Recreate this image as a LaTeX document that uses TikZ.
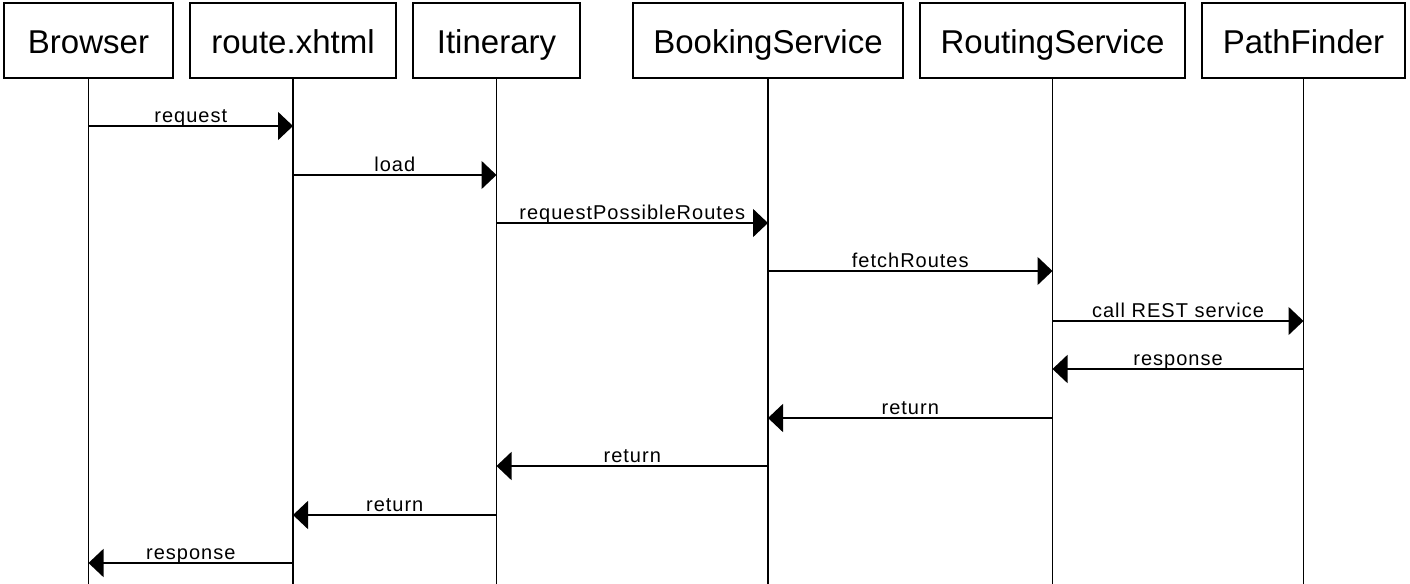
\documentclass[tikz,border=0pt]{standalone}
\usepackage{fontspec}
\setmainfont{Liberation Sans}
\usetikzlibrary{arrows.meta}

\begin{document}
\begin{tikzpicture}[x=0.5pt,y=-0.5pt,
    actor/.style={draw,line width=0.8pt,minimum height=37.5pt,inner sep=0pt,
      text height=14pt,text depth=1.5pt,font=\fontsize{16.5}{18}\selectfont},
    life/.style={line width=0.8pt},
    msg/.style={line width=0.8pt,-{Triangle[length=7.5pt,width=14pt]}},
    lbl/.style={anchor=base,yshift=2pt,inner sep=0pt,
      font=\fontsize{10}{12}\selectfont\addfontfeature{LetterSpace=5}}]
        \useasboundingbox (0,0) rectangle (1410,584);

        \node[actor,minimum width=84.5pt] (Br) at (88.5,40.5) {Browser};
        \node[actor,minimum width=103pt] (Rx) at (293,40.5) {route.xhtml};
        \node[actor,minimum width=83.5pt] (It) at (496.5,40.5) {Itinerary};
        \node[actor,minimum width=135pt] (Bs) at (768,40.5) {BookingService};
        \node[actor,minimum width=132.5pt] (Rs) at (1052.5,40.5) {RoutingService};
        \node[actor,minimum width=101.5pt] (Pf) at (1303.5,40.5) {PathFinder};

        \draw[life] (Br.south) -- (Br |- 0,584);
        \draw[life] (Rx.south) -- (Rx |- 0,584);
        \draw[life] (It.south) -- (It |- 0,584);
        \draw[life] (Bs.south) -- (Bs |- 0,584);
        \draw[life] (Rs.south) -- (Rs |- 0,584);
        \draw[life] (Pf.south) -- (Pf |- 0,584);

        \draw[msg] (Br |- 0,126) -- node[lbl]{request} (Rx |- 0,126);
        \draw[msg] (Rx |- 0,175) -- node[lbl]{load} (It |- 0,175);
        \draw[msg] (It |- 0,223) -- node[lbl]{requestPossibleRoutes} (Bs |- 0,223);
        \draw[msg] (Bs |- 0,271) -- node[lbl]{fetchRoutes} (Rs |- 0,271);
        \draw[msg] (Rs |- 0,321) -- node[lbl]{call REST service} (Pf |- 0,321);
        \draw[msg] (Pf |- 0,369) -- node[lbl]{response} (Rs |- 0,369);
        \draw[msg] (Rs |- 0,418) -- node[lbl]{return} (Bs |- 0,418);
        \draw[msg] (Bs |- 0,466) -- node[lbl]{return} (It |- 0,466);
        \draw[msg] (It |- 0,515) -- node[lbl]{return} (Rx |- 0,515);
        \draw[msg] (Rx |- 0,563) -- node[lbl]{response} (Br |- 0,563);
      \end{tikzpicture}
\end{document}
